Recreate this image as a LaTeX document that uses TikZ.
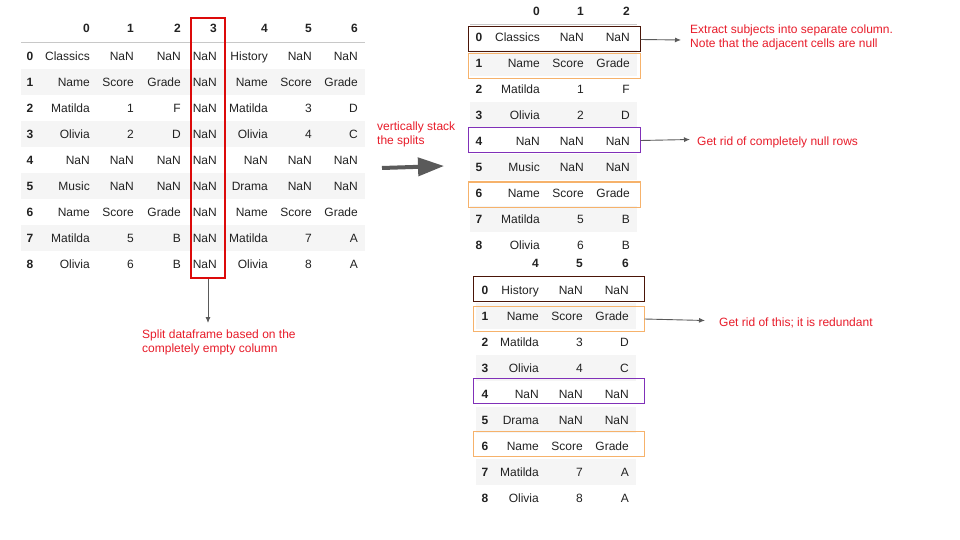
\documentclass[tikz,border=0pt]{standalone}
\usepackage{fontspec}
\setmainfont{Liberation Sans}
\usetikzlibrary{arrows.meta}
\definecolor{txt}{HTML}{222222}
\definecolor{stripe}{HTML}{F5F5F5}
\definecolor{hline}{HTML}{C8C8C8}
\definecolor{splitred}{RGB}{220,10,10}
\definecolor{note}{RGB}{232,28,42}
\definecolor{brownbox}{HTML}{4A1508}
\definecolor{orangebox}{HTML}{F6B26B}
\definecolor{purplebox}{HTML}{8030B8}
\definecolor{arrowgray}{HTML}{5A5A5A}
\begin{document}
\begin{tikzpicture}[x=1pt,y=-1pt,
  cell/.style={anchor=base east, inner sep=0pt, text=txt, font=\fontsize{12}{14}\selectfont},
  idx/.style={anchor=base, inner sep=0pt, text=txt, font=\fontsize{12}{14}\selectfont\bfseries},
  hdr/.style={anchor=base east, inner sep=0pt, text=txt, font=\fontsize{12}{14}\selectfont\bfseries},
  notetext/.style={anchor=base west, inner sep=0pt, align=left, text=note, font=\fontsize{12}{14}\selectfont},
  hl/.style={draw=#1, line width=1pt, inner sep=0pt, minimum width=172pt, minimum height=25pt},
  splitbox/.style={draw=splitred, color=splitred, line width=1.15pt, inner sep=0pt, minimum width=34pt, minimum height=260pt},
  conn/.style={draw=arrowgray, line width=0.9pt, -{Latex[length=6pt,width=5pt]}},
  bigarrow/.style={draw=arrowgray, line width=4pt, -{Triangle[length=26pt,width=18pt]}}
]
\useasboundingbox (0,0) rectangle (960,540);
\fill[white] (0,0) rectangle (960,540);

% ---------------- left table ----------------
\foreach \r in {1,3,5,7} {
  \fill[stripe] (21,{56+26*\r-13}) rectangle (365,{56+26*\r+13});
}
\draw[hline, line width=0.8pt] (21,42) -- (365,42);
\foreach \c/\x in {0/90,1/134,2/181,3/217,4/268,5/312,6/358} {
  \node[hdr] (LH-\c) at (\x,32.5) {\c};
}
\foreach \r/\a/\b/\c/\d/\e/\f/\g in {
  0/Classics/NaN/NaN/NaN/History/NaN/NaN,
  1/Name/Score/Grade/NaN/Name/Score/Grade,
  2/Matilda/1/F/NaN/Matilda/3/D,
  3/Olivia/2/D/NaN/Olivia/4/C,
  4/NaN/NaN/NaN/NaN/NaN/NaN/NaN,
  5/Music/NaN/NaN/NaN/Drama/NaN/NaN,
  6/Name/Score/Grade/NaN/Name/Score/Grade,
  7/Matilda/5/B/NaN/Matilda/7/A,
  8/Olivia/6/B/NaN/Olivia/8/A} {
  \pgfmathsetmacro\yy{56+26*\r+4.5}
  \node[idx]  (L-\r)   at (30,\yy)  {\r};
  \node[cell] (L-\r-0) at (90,\yy)  {\a};
  \node[cell] (L-\r-1) at (134,\yy) {\b};
  \node[cell] (L-\r-2) at (181,\yy) {\c};
  \node[cell] (L-\r-3) at (217,\yy) {\d};
  \node[cell] (L-\r-4) at (268,\yy) {\e};
  \node[cell] (L-\r-5) at (312,\yy) {\f};
  \node[cell] (L-\r-6) at (358,\yy) {\g};
}
\node[splitbox] (splitcol) at (208,148) {};
\node[notetext] (splitnote) at (142,352.5) {Split dataframe based on the\\completely empty column};
\coordinate (splittip) at (208,323);
\draw[conn] (splitcol.south) -- (splittip);

% ---------------- middle arrow ----------------
\node[notetext] (stacknote) at (377,144.5) {vertically stack\\the splits};
\coordinate (bigstart) at (382,168);
\coordinate (bigend) at (444,166);
\draw[bigarrow] (bigstart) -- (bigend);

% ---------------- top right table ----------------
\foreach \r in {1,3,5,7} {
  \fill[stripe] (470,{37+26*\r-13}) rectangle (637,{37+26*\r+13});
}
\draw[hline, line width=0.8pt] (470,24) -- (637,24);
\foreach \c/\x in {0/540,1/584,2/630} {
  \node[hdr] (TH-\c) at (\x,15.5) {\c};
}
\foreach \r/\a/\b/\c in {
  0/Classics/NaN/NaN,
  1/Name/Score/Grade,
  2/Matilda/1/F,
  3/Olivia/2/D,
  4/NaN/NaN/NaN,
  5/Music/NaN/NaN,
  6/Name/Score/Grade,
  7/Matilda/5/B,
  8/Olivia/6/B} {
  \pgfmathsetmacro\yy{37+26*\r+4.5}
  \node[idx]  (T-\r)   at (479,\yy) {\r};
  \node[cell] (T-\r-0) at (540,\yy) {\a};
  \node[cell] (T-\r-1) at (584,\yy) {\b};
  \node[cell] (T-\r-2) at (630,\yy) {\c};
}
\node[hl=brownbox]  (TB0) at (554,39.5)  {};
\node[hl=orangebox] (TB1) at (554,66.5)  {};
\node[hl=purplebox] (TB4) at (554,140.5) {};
\node[hl=orangebox] (TB6) at (554,194.5) {};

\node[notetext] (extractnote) at (690,47.5) {Extract subjects into separate column.\\Note that the adjacent cells are null};
\coordinate (extracttip) at (681,40);
\draw[conn] (TB0.east) -- (extracttip);

\node[notetext] (nullnote) at (697,145.5) {Get rid of completely null rows};
\coordinate (nulltip) at (690,139.5);
\draw[conn] (TB4.east) -- (nulltip);

% ---------------- bottom right table ----------------
\foreach \r in {1,3,5,7} {
  \fill[stripe] (476,{290+26*\r-13}) rectangle (636,{290+26*\r+13});
}
\foreach \c/\x in {4/539,5/583,6/629} {
  \node[hdr] (BH-\c) at (\x,267.5) {\c};
}
\foreach \r/\a/\b/\c in {
  0/History/NaN/NaN,
  1/Name/Score/Grade,
  2/Matilda/3/D,
  3/Olivia/4/C,
  4/NaN/NaN/NaN,
  5/Drama/NaN/NaN,
  6/Name/Score/Grade,
  7/Matilda/7/A,
  8/Olivia/8/A} {
  \pgfmathsetmacro\yy{290+26*\r+4.5}
  \node[idx]  (B-\r)   at (485,\yy) {\r};
  \node[cell] (B-\r-0) at (539,\yy) {\a};
  \node[cell] (B-\r-1) at (583,\yy) {\b};
  \node[cell] (B-\r-2) at (629,\yy) {\c};
}
\node[hl=brownbox,  minimum width=171pt] (BB0) at (558.5,289)   {};
\node[hl=orangebox, minimum width=171pt] (BB1) at (558.5,319)   {};
\node[hl=purplebox, minimum width=171pt] (BB4) at (558.5,391)   {};
\node[hl=orangebox, minimum width=171pt] (BB6) at (558.5,443.5) {};

\node[notetext] (redundantnote) at (719,326.5) {Get rid of this; it is redundant};
\coordinate (redundanttip) at (705,320.5);
\draw[conn] (BB1.east) -- (redundanttip);
\end{tikzpicture}
\end{document}
